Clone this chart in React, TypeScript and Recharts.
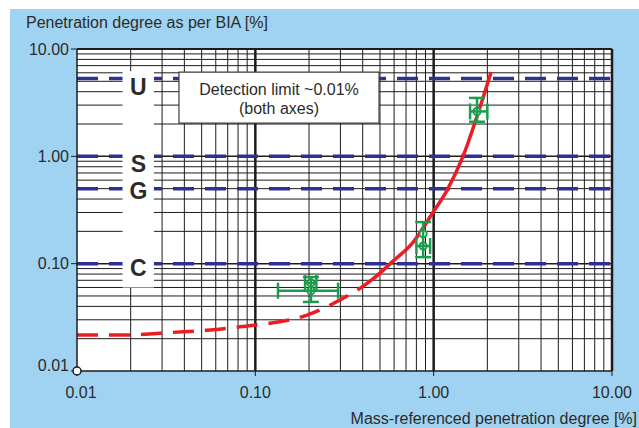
import React from "react";
import {
    ComposedChart,
    Line,
    Scatter,
    XAxis,
    YAxis,
    ReferenceLine,
    ReferenceArea,
    ReferenceDot,
    ErrorBar,
} from "recharts";

// axis ticks (labelled) and log grid lines
const majorTicks = [0.01, 0.1, 1, 10];
const minorGrid = [
    0.02, 0.03, 0.04, 0.05, 0.06, 0.07, 0.08, 0.09,
    0.2, 0.3, 0.4, 0.5, 0.6, 0.7, 0.8, 0.9,
    2, 3, 4, 5, 6, 7, 8, 9,
];
const majorGrid = [0.1, 1];

// classification limits (blue dashed) and their letters
const limitValues = [5.3, 1.0, 0.5, 0.1];
const letterLabels = ["U", "S", "G", "C"];
const letterY = [4.4, 0.85, 0.48, 0.092];
const letterX = 0.0221;

// red model curve (dashed at low values, solid above ~0.3)
const curveX = [0.01, 0.0198, 0.0345, 0.0536, 0.082, 0.195, 0.298, 0.457, 0.59, 0.766, 0.99, 1.19, 1.46, 1.82, 2.1];
const curveY = [0.0217, 0.0217, 0.0229, 0.024, 0.0258, 0.0332, 0.0458, 0.072, 0.105, 0.158, 0.3, 0.485, 1.0, 2.88, 6.1];

// measured samples with error bars
const pointX = [0.205, 0.205, 0.873, 0.873, 1.75];
const pointY = [0.066, 0.056, 0.19, 0.146, 2.62];
const xErrLow = [0.015, 0.071, null, 0.073, 0.15];
const xErrHigh = [0.015, 0.086, null, 0.082, 0.25];
const yErrLow = [0.022, null, 0.075, null, 0.52];
const yErrHigh = [0.009, null, 0.054, null, 0.88];

const BLUE_BG = "#a0d3f1";
const TEXT = "#2b2b2b";
const GRID = "#1c1c1c";
const RED = "#ec1c24";
const NAVY = "#2e3192";
const GREEN = "#1a9e4b";
const FONT = "'Liberation Sans', Arial, Helvetica, sans-serif";

// 9 dashes, then solid for the rest of the path
const curveDash = Array(9).fill("21 11").join(" ") + " 3000 0";

const curveData = curveX.map((x, i) => ({ x, y: curveY[i] }));
const letterData = letterLabels.map((label, i) => ({ x: letterX, y: letterY[i], label }));
const pointData = pointX.map((x, i) => ({
    x,
    y: pointY[i],
    ex: xErrLow[i] == null ? null : [xErrLow[i], xErrHigh[i]],
    ey: yErrLow[i] == null ? null : [yErrLow[i], yErrHigh[i]],
}));

const fmt = (v: number) => v.toFixed(2);

const XTick = (props: any) => {
    const { x, y, payload } = props;
    const shift = payload.value === 0.01 ? 4 : 0;
    return (
        <text x={x + shift} y={y + 20} textAnchor="middle" fontSize={16} fill={TEXT} fontFamily={FONT}>
            {fmt(payload.value)}
        </text>
    );
};

const YTick = (props: any) => {
    const { x, y, payload } = props;
    const shift = payload.value === 0.01 ? -6 : 0;
    return (
        <text x={x} y={y + 5.5 + shift} textAnchor="end" fontSize={16} fill={TEXT} fontFamily={FONT}>
            {fmt(payload.value)}
        </text>
    );
};

const DetectionLabel = (props: any) => {
    const { x, y, width, height } = props.viewBox;
    const cx = x + width / 2;
    return (
        <text x={cx} y={y + height / 2} textAnchor="middle" fontSize={16} fill={TEXT} fontFamily={FONT}>
            <tspan x={cx} dy={-3}>Detection limit ~0.01%</tspan>
            <tspan x={cx} dy={19}>(both axes)</tspan>
        </text>
    );
};

const LetterShape = (props: any) => {
    const { cx, cy, payload } = props;
    return (
        <text x={cx} y={cy + 8} textAnchor="middle" fontSize={23} fontWeight="bold" fill={TEXT} fontFamily={FONT}>
            {payload.label}
        </text>
    );
};

const PointShape = (props: any) => {
    const { cx, cy } = props;
    return <circle cx={cx} cy={cy} r={3.6} fill="#fff" stroke={GREEN} strokeWidth={2} />;
};

export default function App() {
    return (
        <div style={{ position: "absolute", left: 0, top: 0, width: 639, height: 428, background: "#fff", fontFamily: FONT }}>
            <div style={{ position: "absolute", left: 10, top: 9, width: 629, height: 419, background: BLUE_BG }}>
                <ComposedChart width={629} height={419} margin={{ top: 40, right: 27, bottom: 0, left: 0 }}>
                    <XAxis
                        dataKey="x"
                        type="number"
                        scale="log"
                        domain={[0.01, 10]}
                        allowDataOverflow
                        ticks={majorTicks}
                        tick={<XTick />}
                        tickSize={5}
                        height={57}
                        axisLine={{ stroke: GRID, strokeWidth: 1.5 }}
                        tickLine={{ stroke: GRID }}
                    />
                    <YAxis
                        dataKey="y"
                        type="number"
                        scale="log"
                        domain={[0.01, 10]}
                        allowDataOverflow
                        ticks={majorTicks}
                        tick={<YTick />}
                        tickSize={6}
                        width={67}
                        axisLine={{ stroke: GRID, strokeWidth: 1.5 }}
                        tickLine={{ stroke: GRID }}
                    />
                    <ReferenceArea x1={0.01} x2={10} y1={0.01} y2={10} fill="#fff" fillOpacity={1} stroke="none" zIndex={1} />
                    {minorGrid.map((v) => (
                        <ReferenceLine key={"vx" + v} x={v} stroke={GRID} strokeWidth={1} zIndex={2} />
                    ))}
                    {minorGrid.map((v) => (
                        <ReferenceLine key={"hy" + v} y={v} stroke={GRID} strokeWidth={1} zIndex={2} />
                    ))}
                    {majorGrid.map((v) => (
                        <ReferenceLine key={"mx" + v} x={v} stroke={GRID} strokeWidth={2.5} zIndex={3} />
                    ))}
                    {majorGrid.map((v) => (
                        <ReferenceLine key={"my" + v} y={v} stroke={GRID} strokeWidth={1.5} zIndex={3} />
                    ))}
                    {limitValues.map((v) => (
                        <ReferenceLine key={"lim" + v} y={v} stroke={NAVY} strokeWidth={3.5} strokeDasharray="21 11" zIndex={4} />
                    ))}
                    <ReferenceArea x1={0.018} x2={0.027} y1={0.06} y2={6.2} fill="#fff" fillOpacity={1} stroke="none" zIndex={5} />
                    <ReferenceArea
                        x1={0.0373}
                        x2={0.494}
                        y1={2.04}
                        y2={6.1}
                        fill="#fff"
                        fillOpacity={1}
                        stroke="#3a3a3a"
                        strokeWidth={1.2}
                        label={DetectionLabel}
                        zIndex={6}
                    />
                    <Line
                        data={curveData}
                        dataKey="y"
                        type="monotone"
                        stroke={RED}
                        strokeWidth={3.5}
                        strokeDasharray={curveDash}
                        dot={false}
                        activeDot={false}
                        isAnimationActive={false}
                        zIndex={7}
                    />
                    <Scatter data={letterData} dataKey="y" shape={<LetterShape />} isAnimationActive={false} zIndex={8} />
                    <Scatter data={pointData} dataKey="y" shape={<PointShape />} isAnimationActive={false} zIndex={9}>
                        <ErrorBar dataKey="ex" direction="x" stroke={GREEN} strokeWidth={2.5} width={8} />
                        <ErrorBar dataKey="ey" direction="y" stroke={GREEN} strokeWidth={2.5} width={8} />
                    </Scatter>
                    <ReferenceLine y={10} stroke={GRID} strokeWidth={2} zIndex={10} />
                    <ReferenceLine x={10} stroke={GRID} strokeWidth={2.5} zIndex={10} />
                    <ReferenceDot x={0.01} y={0.01} r={4} fill="#fff" stroke={GRID} strokeWidth={1.5} ifOverflow="visible" zIndex={600} />
                </ComposedChart>
            </div>
            <div style={{ position: "absolute", left: 26, top: 15, fontSize: 16, lineHeight: "16px", color: TEXT, whiteSpace: "nowrap" }}>
                Penetration degree as per BIA [%]
            </div>
            <div style={{ position: "absolute", right: 2, top: 411, fontSize: 16, lineHeight: "16px", color: TEXT, whiteSpace: "nowrap" }}>
                Mass-referenced penetration degree [%]
            </div>
        </div>
    );
}
